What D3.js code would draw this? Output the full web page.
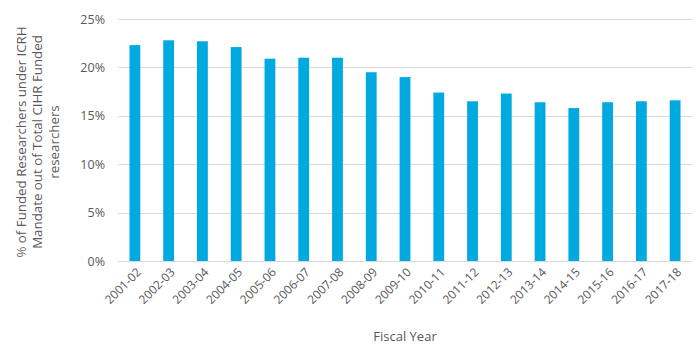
<!DOCTYPE html>
<html>
<head>
<meta charset="utf-8">
<script src="https://cdn.jsdelivr.net/npm/d3@7"></script>
<style>
  html, body { margin: 0; padding: 0; background: #fff; }
  svg text { font-family: "Open Sans", "Noto Sans", sans-serif; fill: #595959; }
</style>
</head>
<body>
<svg id="chart" width="700" height="350"></svg>
<script>
// Fiscal years and share of funded researchers under the ICRH mandate (%)
const fiscalYears = ["2001-02","2002-03","2003-04","2004-05","2005-06","2006-07","2007-08","2008-09","2009-10",
                     "2010-11","2011-12","2012-13","2013-14","2014-15","2015-16","2016-17","2017-18"];
const sharePct = [22.3, 22.8, 22.7, 22.1, 20.9, 21.0, 21.0, 19.5, 19.0,
                  17.4, 16.5, 17.3, 16.4, 15.8, 16.4, 16.5, 16.6];
const yTicks = [0, 5, 10, 15, 20, 25];
const yTitleLines = ["% of Funded Researchers under ICRH", "Mandate out of Total CIHR Funded", "researchers"];
const xTitle = "Fiscal Year";

const svg = d3.select("#chart");
const plot = { left: 118, right: 692, top: 19, bottom: 261 };

const x = d3.scaleBand().domain(fiscalYears).range([plot.left, plot.right]).paddingInner(0.68).paddingOuter(0.34);
const y = d3.scaleLinear().domain([0, 25]).range([plot.bottom, plot.top]);

// horizontal gridlines
svg.append("g").selectAll("line").data(yTicks.filter(d => d > 0)).join("line")
  .attr("x1", plot.left).attr("x2", plot.right)
  .attr("y1", d => Math.round(y(d)) + 0.5).attr("y2", d => Math.round(y(d)) + 0.5)
  .attr("stroke", "#d9d9d9").attr("stroke-width", 1);

// bars
svg.append("g").selectAll("rect").data(fiscalYears).join("rect")
  .attr("x", d => x(d)).attr("width", x.bandwidth())
  .attr("y", (d, i) => y(sharePct[i]))
  .attr("height", (d, i) => y(0) - y(sharePct[i]))
  .attr("fill", "#00a9e0");

// y axis (labels only)
const yAxis = svg.append("g").attr("transform", `translate(${plot.left},0)`)
  .call(d3.axisLeft(y).tickValues(yTicks).tickFormat(d => d + "%").tickSize(0).tickPadding(13));
yAxis.select(".domain").remove();
yAxis.selectAll("text").style("font-size", "12.5px").attr("fill", "#595959");

// x axis baseline and rotated labels
const xAxis = svg.append("g").attr("transform", `translate(0,${plot.bottom})`)
  .call(d3.axisBottom(x).tickSize(0).tickPadding(0));
xAxis.select(".domain").attr("stroke", "#d9d9d9").attr("d", `M${plot.left},0.5H${plot.right}`);
xAxis.selectAll(".tick text")
  .style("font-size", "12px").attr("fill", "#595959")
  .attr("text-anchor", "end")
  .attr("dy", "0.35em")
  .attr("transform", "translate(4,9) rotate(-45)")
  .attr("x", 0).attr("y", 0);

// axis titles
svg.append("text")
  .attr("x", (plot.left + plot.right) / 2 + 0).attr("y", 341)
  .attr("text-anchor", "middle").style("font-size", "13px")
  .text(xTitle);

const yt = svg.append("text")
  .attr("transform", "translate(21,142) rotate(-90)")
  .attr("text-anchor", "middle").style("font-size", "13.3px");
yt.selectAll("tspan").data(yTitleLines).join("tspan")
  .attr("x", 0).attr("dy", (d, i) => i === 0 ? "0.35em" : "16.5")
  .text(d => d);
</script>
</body>
</html>
